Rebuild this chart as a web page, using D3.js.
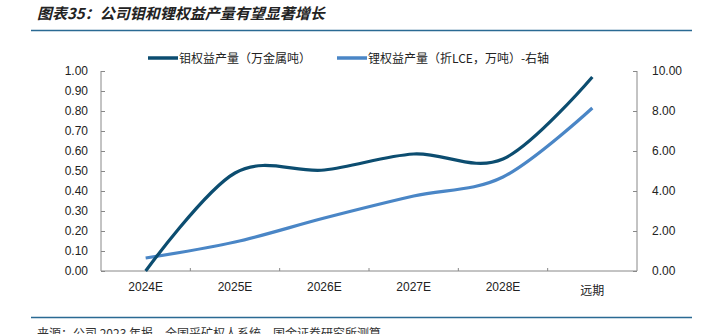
<!DOCTYPE html>
<html><head><meta charset="utf-8">
<script src="https://cdn.jsdelivr.net/npm/d3@7"></script>
<style>
body{margin:0;background:#fff;}
svg{display:block;font-family:"Liberation Sans","Noto Sans CJK SC",sans-serif;}
</style></head>
<body>
<svg id="c" width="714" height="334"></svg>
<script>
const categories = ["2024E","2025E","2026E","2027E","2028E","远期"];
const moValues = [0.00, 0.49, 0.505, 0.585, 0.56, 0.97];
const liValues = [0.65, 1.45, 2.65, 3.75, 4.7, 8.15];
const leftTicks = [0,0.1,0.2,0.3,0.4,0.5,0.6,0.7,0.8,0.9,1.0];
const rightTicks = [0,2,4,6,8,10];
const seriesNames = ["钼权益产量（万金属吨）","锂权益产量（折LCE，万吨）-右轴"];
const titleText = "图表35：公司钼和锂权益产量有望显著增长";
const sourceText = "来源：公司 2023 年报，全国采矿权人系统，国金证券研究所测算";

const svg = d3.select("#c");
const cDark = "#0c4d70", cLight = "#4a86c6";
const L = 101, R = 637, T = 71, B = 271;

// title
svg.append("text").attr("x",37).attr("y",19).attr("font-size",15).attr("font-style","italic")
  .attr("font-weight","bold").attr("fill","#222").attr("font-family","'Noto Sans CJK SC',sans-serif").text(titleText);
svg.append("line").attr("x1",31).attr("x2",692).attr("y1",30.5).attr("y2",30.5).attr("stroke","#2a6a93").attr("stroke-width",1.5);
svg.append("line").attr("x1",31).attr("x2",692).attr("y1",317.5).attr("y2",317.5).attr("stroke","#2a6a93").attr("stroke-width",1.5);
svg.append("text").attr("x",37).attr("y",338).attr("font-size",12).attr("fill","#333")
  .attr("font-family","'Noto Sans CJK SC',sans-serif").text(sourceText);

const x = d3.scaleBand().domain(categories).range([L,R]);
const yL = d3.scaleLinear().domain([0,1]).range([B,T]);
const yR = d3.scaleLinear().domain([0,10]).range([B,T]);

const gL = svg.append("g").attr("transform",`translate(${L},0)`)
  .call(d3.axisLeft(yL).tickValues(leftTicks).tickFormat(d3.format(".2f")).tickSizeInner(-4).tickSizeOuter(-4).tickPadding(13));
const gR = svg.append("g").attr("transform",`translate(${R},0)`)
  .call(d3.axisRight(yR).tickValues(rightTicks).tickFormat(d3.format(".2f")).tickSizeInner(-4).tickSizeOuter(-4).tickPadding(15));
[gL,gR].forEach(g=>{
  g.selectAll("path,line").attr("stroke","#888");
  g.selectAll("text").attr("font-size",12).attr("fill","#222").attr("font-family","'Liberation Sans',Arial,sans-serif");
  g.select(".domain").attr("d", `M0,${T}V${B}`);
});
const gX = svg.append("g").attr("transform",`translate(0,${B})`);
gX.append("line").attr("x1",L).attr("x2",R).attr("stroke","#888");
gX.selectAll(".tk").data(categories.slice(1)).enter().append("line")
  .attr("x1",d=>x(d)).attr("x2",d=>x(d)).attr("y1",0).attr("y2",-3).attr("stroke","#888");
gX.selectAll(".lb").data(categories).enter().append("text")
  .attr("x",d=>x(d)+x.bandwidth()/2).attr("y",d=>d==="远期"?24:20)
  .attr("text-anchor","middle").attr("font-size",12).attr("fill","#222")
  .attr("font-family",d=>d==="远期"?"'Noto Sans CJK SC',sans-serif":"'Liberation Sans',Arial,sans-serif").text(d=>d);

const cx = d => x(d)+x.bandwidth()/2;
const lineL = d3.line().x((d,i)=>cx(categories[i])).y(d=>yL(d)).curve(d3.curveCardinal.tension(0));
const lineR = d3.line().x((d,i)=>cx(categories[i])).y(d=>yR(d)).curve(d3.curveCardinal.tension(0));
svg.append("path").attr("d",lineR(liValues)).attr("fill","none").attr("stroke",cLight).attr("stroke-width",3.2);
svg.append("path").attr("d",lineL(moValues)).attr("fill","none").attr("stroke",cDark).attr("stroke-width",3.2);

const leg = [{n:seriesNames[0],c:cDark,x:148},{n:seriesNames[1],c:cLight,x:337}];
leg.forEach(l=>{
  svg.append("line").attr("x1",l.x).attr("x2",l.x+30).attr("y1",58).attr("y2",58).attr("stroke",l.c).attr("stroke-width",3.5);
  svg.append("text").attr("x",l.x+31).attr("y",62.5).attr("font-size",12).attr("fill","#222")
    .attr("font-family","'Noto Sans CJK SC',sans-serif").text(l.n);
});
</script>
</body></html>
